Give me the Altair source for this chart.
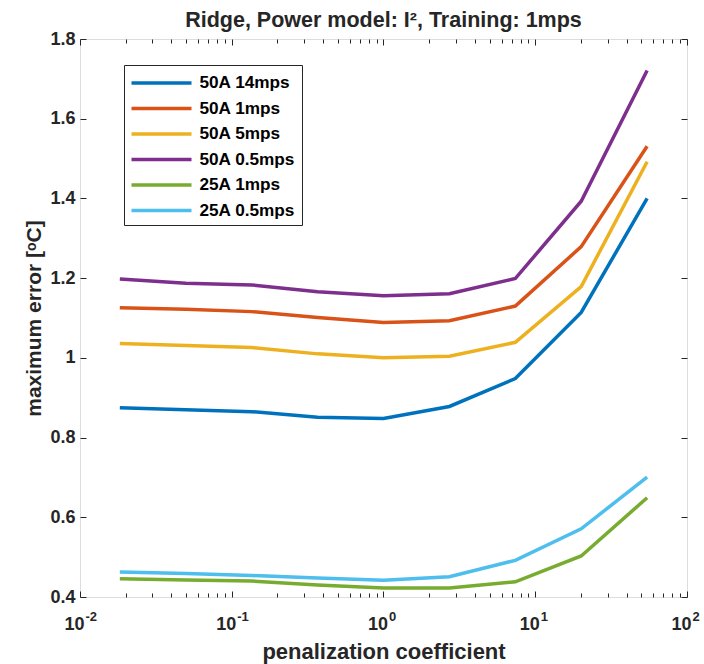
import altair as alt
import pandas as pd

# ---- data ----
coef = [0.0183, 0.0498, 0.1353, 0.3679, 1.0, 2.7183, 7.3891, 20.0855, 54.5982]
series_names = ["50A 14mps", "50A 1mps", "50A 5mps", "50A 0.5mps", "25A 1mps", "25A 0.5mps"]
s_50A_14mps = [0.875, 0.870, 0.865, 0.851, 0.848, 0.878, 0.948, 1.114, 1.400]
s_50A_1mps = [1.126, 1.122, 1.116, 1.101, 1.089, 1.093, 1.130, 1.279, 1.531]
s_50A_5mps = [1.036, 1.031, 1.026, 1.010, 1.000, 1.004, 1.039, 1.179, 1.492]
s_50A_05mps = [1.198, 1.187, 1.183, 1.166, 1.156, 1.161, 1.199, 1.393, 1.721]
s_25A_1mps = [0.446, 0.4425, 0.440, 0.430, 0.4225, 0.4225, 0.438, 0.503, 0.649]
s_25A_05mps = [0.4625, 0.459, 0.454, 0.4475, 0.442, 0.451, 0.492, 0.571, 0.701]
colors = ["#0072BD", "#D95319", "#EDB120", "#7E2F8E", "#77AC30", "#4DBEEE"]

x_major = [0.01, 0.1, 1, 10, 100]
x_exponents = ["-2", "-1", "0", "1", "2"]
x_minor = [0.02, 0.03, 0.04, 0.05, 0.06, 0.07, 0.08, 0.09,
           0.2, 0.3, 0.4, 0.5, 0.6, 0.7, 0.8, 0.9,
           2, 3, 4, 5, 6, 7, 8, 9,
           20, 30, 40, 50, 60, 70, 80, 90]
y_major = [0.4, 0.6, 0.8, 1.0, 1.2, 1.4, 1.6, 1.8]

all_series = [s_50A_14mps, s_50A_1mps, s_50A_5mps, s_50A_05mps, s_25A_1mps, s_25A_05mps]
rows = []
for name, vals in zip(series_names, all_series):
    for c, v in zip(coef, vals):
        rows.append({"coef": c, "value": v, "series": name, "order": series_names.index(name)})
df = pd.DataFrame(rows)

FONT = "Liberation Sans"
INK = "#262626"

exp_expr = " : ".join(
    [f"datum.value == {v} ? '{l}'" for v, l in zip(x_major[:-1], x_exponents[:-1])]
) + f" : '{x_exponents[-1]}'"

xscale = alt.Scale(type="log", domain=[0.01, 100], nice=False)
yscale = alt.Scale(domain=[0.4, 1.8], nice=False, zero=False)

common_axis = dict(grid=False, domain=False, ticks=True, tickColor=INK, tickWidth=1,
                   tickOpacity=1, zindex=1)

lines = alt.Chart(df).mark_line(strokeWidth=3.5, clip=True).encode(
    x=alt.X("coef:Q", scale=xscale, axis=alt.Axis(
        orient="bottom", values=x_major, tickSize=6, offset=-6, labelExpr="'10'",
        labelAlign="right", labelOffset=4,
        labelFont=FONT, labelFontSize=18, labelFontWeight="bold", labelColor=INK,
        labelPadding=18, title="penalization coefficient", titleFont=FONT,
        titleFontSize=22, titleFontWeight="bold", titleColor=INK, titlePadding=8,
        **common_axis)),
    y=alt.Y("value:Q", scale=yscale, axis=alt.Axis(
        orient="left", values=y_major, tickSize=6, offset=-6, format="~g",
        labelFont=FONT, labelFontSize=18, labelFontWeight="bold", labelColor=INK,
        labelPadding=5, title="maximum error [ᵒC]", titleFont=FONT,
        titleFontSize=21, titleFontWeight="bold", titleColor=INK, titlePadding=5,
        **common_axis)),
    color=alt.Color("series:N", scale=alt.Scale(domain=series_names, range=colors),
                    legend=alt.Legend(
                        title=None, orient="none", legendX=44, legendY=26,
                        symbolType="M-3,0H3", symbolSize=400, symbolStrokeWidth=3.5,
                        symbolOffset=19.5, labelOffset=26,
                        labelFont=FONT, labelFontSize=17.2, labelFontWeight="bold",
                        labelColor="#000000", rowPadding=4.5, padding=6,
                        strokeColor=INK, fillColor="#ffffff")),
    order="order:Q",
    detail="series:N",
)

ghost = lambda: alt.Chart(df).mark_point(opacity=0)

l2 = ghost().encode(
    x=alt.X("coef:Q", scale=xscale, axis=alt.Axis(
        orient="bottom", values=x_minor, tickSize=4, offset=-4, labels=False, title=None,
        **common_axis)),
    y=alt.Y("value:Q", scale=yscale, axis=alt.Axis(
        orient="right", values=y_major, tickSize=6, offset=-6, labels=False, title=None,
        **common_axis)),
)
l3 = ghost().encode(
    x=alt.X("coef:Q", scale=xscale, axis=alt.Axis(
        orient="top", values=x_major, tickSize=6, offset=-6, labels=False, title=None,
        **common_axis)),
    y=alt.Y("value:Q", scale=yscale, axis=None),
)
l4 = ghost().encode(
    x=alt.X("coef:Q", scale=xscale, axis=alt.Axis(
        orient="top", values=x_minor, tickSize=4, offset=-4, labels=False, title=None,
        **common_axis)),
    y=alt.Y("value:Q", scale=yscale, axis=None),
)
# exponent labels of the log axis (superscripts)
l5 = ghost().encode(
    x=alt.X("coef:Q", scale=xscale, axis=alt.Axis(
        orient="bottom", values=x_major, ticks=False, labelExpr=exp_expr,
        labelAlign="left", labelOffset=5, labelPadding=13,
        labelFont=FONT, labelFontSize=13, labelFontWeight="bold", labelColor=INK,
        title=None, grid=False, domain=False, zindex=1)),
    y=alt.Y("value:Q", scale=yscale, axis=None),
)

chart = alt.layer(lines, l2, l3, l4, l5).resolve_axis(
    x="independent", y="independent"
).properties(
    width=607, height=558,
    title=alt.TitleParams(
        text="Ridge, Power model: I², Training: 1mps", font=FONT, fontSize=21.5,
        fontWeight="bold", color=INK, anchor="middle", frame="group", offset=-1),
    autosize=alt.AutoSizeParams(type="none"),
    padding={"left": 80, "top": 39, "right": 17, "bottom": 67},
).configure_view(stroke=INK, strokeWidth=1).configure(background="#ffffff")

chart.save("out.html", embed_options={"renderer": "svg", "actions": False})
